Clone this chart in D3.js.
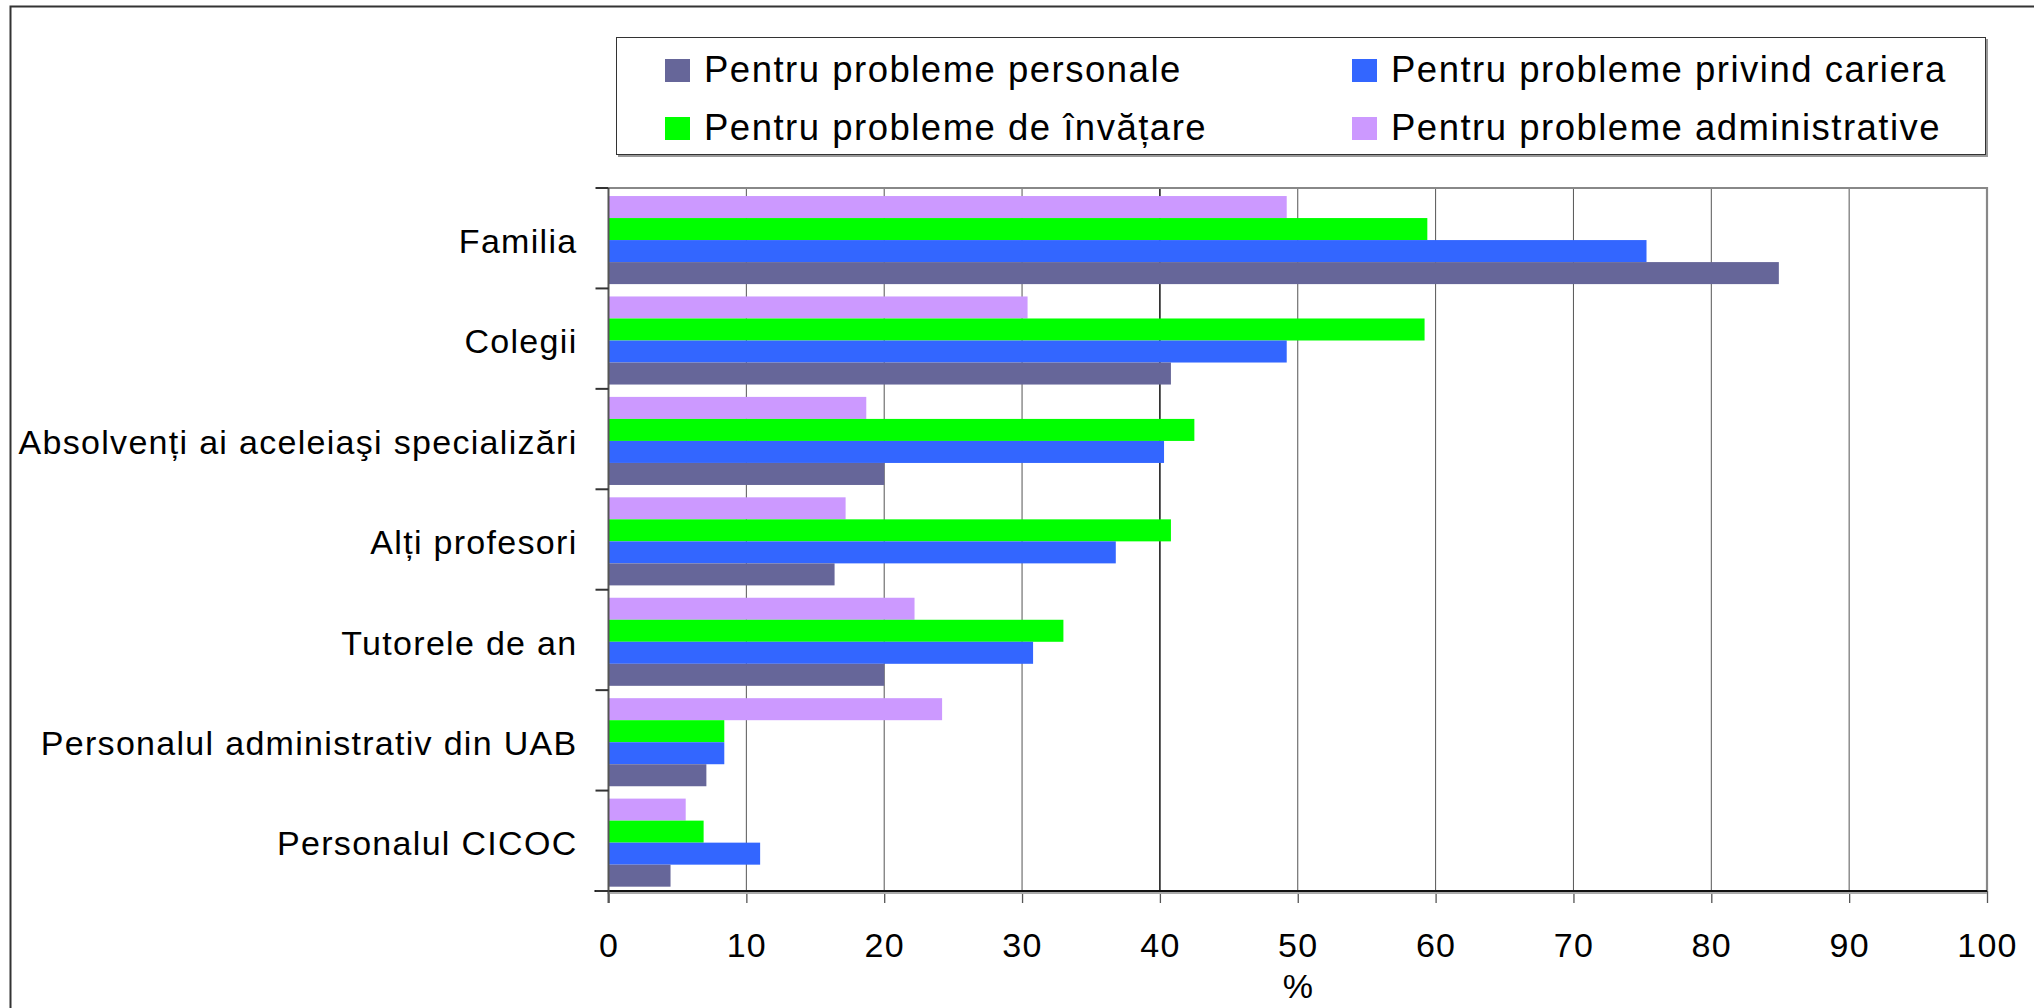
<!DOCTYPE html>
<html>
<head>
<meta charset="utf-8">
<script src="https://cdn.jsdelivr.net/npm/d3@7"></script>
<style>
  html, body { margin: 0; padding: 0; background: #fff; }
  svg { display: block; font-family: "Liberation Sans", Arial, sans-serif; }
</style>
</head>
<body>
<svg id="chart" width="2034" height="1008"></svg>
<script>
// ---- data ----
const categories = [
  "Familia",
  "Colegii",
  "Absolvenți ai aceleiaşi specializări",
  "Alți profesori",
  "Tutorele de an",
  "Personalul administrativ din UAB",
  "Personalul CICOC"
];
const seriesNames = [
  "Pentru probleme personale",
  "Pentru probleme privind cariera",
  "Pentru probleme de învățare",
  "Pentru probleme administrative"
];
const seriesColors = ["#666699", "#3366FF", "#00FF00", "#CC99FF"];
const personale      = [84.9, 40.8, 20.0, 16.4, 20.0, 7.1, 4.5];
const cariera        = [75.3, 49.2, 40.3, 36.8, 30.8, 8.4, 11.0];
const invatare       = [59.4, 59.2, 42.5, 40.8, 33.0, 8.4, 6.9];
const administrative = [49.2, 30.4, 18.7, 17.2, 22.2, 24.2, 5.6];
const xTicks = [0, 10, 20, 30, 40, 50, 60, 70, 80, 90, 100];
const xTitle = "%";

const seriesValues = [personale, cariera, invatare, administrative];
// within each category, bars from top: administrative, învățare, cariera, personale
const stackOrder = [3, 2, 1, 0];

// ---- layout ----
const svg = d3.select("#chart");
const plot = { left: 608.5, right: 1987, top: 188, bottom: 891 };

const x = d3.scaleLinear().domain([0, 100]).range([plot.left, plot.right]);
const y = d3.scaleBand().domain(categories).range([plot.top, plot.bottom]).padding(0);
const bw = y.bandwidth();
const ySub = d3.scaleBand().domain(stackOrder).range([bw * 0.08, bw * 0.957]).padding(0);

// outer frame (top and left edges visible)
svg.append("path")
  .attr("d", `M10.5,${1008 + 5} V6.5 H${2034 + 5}`)
  .attr("fill", "none").attr("stroke", "#333").attr("stroke-width", 2);

// gridlines
svg.append("g").selectAll("line").data(xTicks.slice(1, -1)).join("line")
  .attr("x1", d => x(d)).attr("x2", d => x(d))
  .attr("y1", plot.top).attr("y2", plot.bottom)
  .attr("stroke", d => d === 40 ? "#000" : "#555")
  .attr("stroke-width", d => d === 40 ? 1.4 : 1);

// plot border top/right
svg.append("path")
  .attr("d", `M${plot.left},${plot.top} H${plot.right} V${plot.bottom}`)
  .attr("fill", "none").attr("stroke", "#888").attr("stroke-width", 2.2);

// bars
const groups = svg.append("g").selectAll("g").data(categories).join("g")
  .attr("transform", c => `translate(0,${y(c)})`);
groups.selectAll("rect").data((c, ci) => stackOrder.map(si => ({ si, v: seriesValues[si][ci] })))
  .join("rect")
  .attr("x", x(0))
  .attr("y", d => ySub(d.si))
  .attr("width", d => x(d.v) - x(0))
  .attr("height", ySub.bandwidth())
  .attr("fill", d => seriesColors[d.si]);

// x axis
const xAxis = d3.axisBottom(x).tickValues(xTicks).tickSize(12).tickPadding(30).tickSizeOuter(0);
const gx = svg.append("g").attr("transform", `translate(0,${plot.bottom})`).call(xAxis);
gx.select(".domain").remove();
gx.selectAll(".tick line").attr("stroke", "#555").attr("stroke-width", 1.3);
gx.selectAll(".tick text")
  .attr("font-size", 34).attr("letter-spacing", "1.3px")
  .attr("fill", "#000").attr("font-family", "Liberation Sans, Arial, sans-serif");
// axis line with grey shadow
svg.append("line").attr("x1", plot.left - 1).attr("x2", plot.right)
  .attr("y1", plot.bottom + 2).attr("y2", plot.bottom + 2)
  .attr("stroke", "#aaa").attr("stroke-width", 2);
svg.append("line").attr("x1", plot.left - 14).attr("x2", plot.right)
  .attr("y1", plot.bottom).attr("y2", plot.bottom)
  .attr("stroke", "#111").attr("stroke-width", 2);

// y axis
const yAxis = d3.axisLeft(y).tickSize(0).tickPadding(31);
const gy = svg.append("g").attr("transform", `translate(${plot.left},0)`).call(yAxis);
gy.select(".domain").remove();
gy.selectAll(".tick text")
  .attr("font-size", 34).attr("letter-spacing", "1.3px").attr("dy", "0.43em")
  .attr("fill", "#000").attr("font-family", "Liberation Sans, Arial, sans-serif");
svg.append("line").attr("x1", plot.left).attr("x2", plot.left)
  .attr("y1", plot.top).attr("y2", plot.bottom + 12)
  .attr("stroke", "#555").attr("stroke-width", 2);
const boundaries = categories.map(c => y(c)).concat([plot.bottom]);
svg.append("g").selectAll("line").data(boundaries).join("line")
  .attr("x1", plot.left - 13).attr("x2", plot.left)
  .attr("y1", d => d).attr("y2", d => d)
  .attr("stroke", "#333").attr("stroke-width", 2);

// x title
svg.append("text").attr("x", x(50)).attr("y", 998)
  .attr("text-anchor", "middle").attr("font-size", 34).text(xTitle);

// legend
const lg = svg.append("g");
lg.append("rect").attr("x", 618).attr("y", 39).attr("width", 1370).attr("height", 118)
  .attr("fill", "#999");
lg.append("rect").attr("x", 616.5).attr("y", 37.5).attr("width", 1369).attr("height", 117)
  .attr("fill", "#fff").attr("stroke", "#333").attr("stroke-width", 1);
const legendPos = [
  { x: 665, y: 59 }, { x: 1352, y: 59 },
  { x: 665, y: 117 }, { x: 1352, y: 117 }
];
const li = lg.selectAll("g.item").data(seriesNames).join("g").attr("class", "item")
  .attr("transform", (d, i) => `translate(${legendPos[i].x},${legendPos[i].y})`);
li.append("rect").attr("width", 25).attr("height", 23)
  .attr("fill", (d, i) => seriesColors[i]);
li.append("text").attr("x", 39).attr("y", 23)
  .attr("font-size", 36.5).attr("letter-spacing", "1.5px").attr("fill", "#000")
  .text(d => d);
</script>
</body>
</html>
